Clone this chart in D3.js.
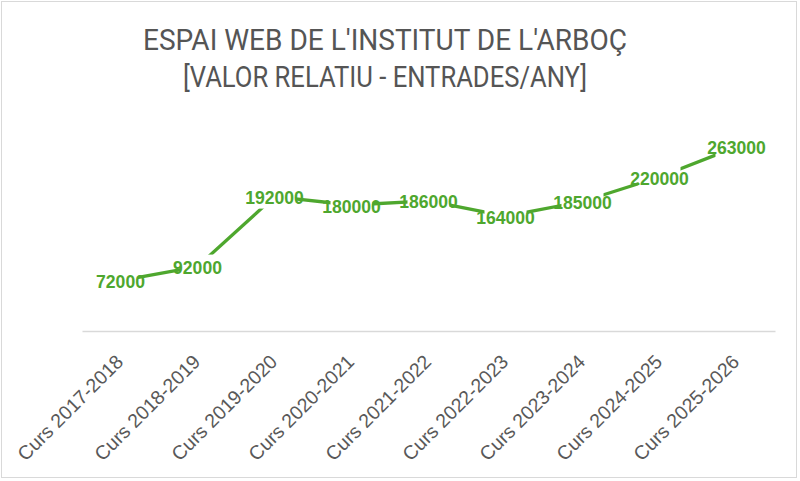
<!DOCTYPE html>
<html>
<head>
<meta charset="utf-8">
<script src="https://cdn.jsdelivr.net/npm/d3@7"></script>
<style>
  body { margin: 0; background: #fff; }
  svg { display: block; }
</style>
</head>
<body>
<div id="chart"></div>
<script>
const titleLines = ["ESPAI WEB DE L'INSTITUT DE L'ARBOÇ", "[VALOR RELATIU - ENTRADES/ANY]"];
const categories = ["Curs 2017-2018", "Curs 2018-2019", "Curs 2019-2020", "Curs 2020-2021",
  "Curs 2021-2022", "Curs 2022-2023", "Curs 2023-2024", "Curs 2024-2025", "Curs 2025-2026"];
const values = [72000, 92000, 192000, 180000, 186000, 164000, 185000, 220000, 263000];
const yDomain = [0, 300000];

const width = 800, height = 481;
const green = '#4ea72e', grey = '#595959';
const plot = { left: 82, right: 775, top: 121, bottom: 331 };

const svg = d3.select('#chart').append('svg')
  .attr('width', width)
  .attr('height', height);

svg.append('rect')
  .attr('x', 1.5).attr('y', 1.5)
  .attr('width', 795).attr('height', 476)
  .attr('fill', '#fff')
  .attr('stroke', '#d9d9d9');

// title
const titleW = [484, 404];
svg.selectAll('text.title')
  .data(titleLines).enter()
  .append('text')
  .attr('class', 'title')
  .attr('x', 385)
  .attr('y', (d, i) => 50 + i * 37)
  .attr('text-anchor', 'middle')
  .attr('font-family', 'Roboto, "Liberation Sans", sans-serif')
  .attr('font-size', 29.5)
  .attr('fill', '#555')
  .attr('textLength', (d, i) => titleW[i])
  .attr('lengthAdjust', 'spacingAndGlyphs')
  .text(d => d);

const x = d3.scaleBand()
  .domain(categories)
  .range([plot.left, plot.right]);

const y = d3.scaleLinear()
  .domain(yDomain)
  .range([plot.bottom, plot.top]);

const cx = d => x(d) + x.bandwidth() / 2;

// category axis
const xAxis = svg.append('g')
  .attr('class', 'x_axis')
  .attr('transform', `translate(0, ${plot.bottom})`)
  .call(d3.axisBottom(x).tickSize(0).tickFormat(''));
xAxis.select('.domain').attr('stroke', '#d9d9d9').attr('stroke-width', 1.3);

svg.selectAll('text.cat')
  .data(categories).enter()
  .append('text')
  .attr('class', 'cat')
  .attr('transform', d => `translate(${cx(d) + 4}, ${plot.bottom + 32}) rotate(-45)`)
  .attr('text-anchor', 'end')
  .attr('font-family', '"Liberation Sans", Arial, sans-serif')
  .attr('font-size', 19.5)
  .attr('fill', grey)
  .text(d => d);

// mask: line is hidden behind the data label boxes
const mask = svg.append('defs').append('mask').attr('id', 'labelMask');
mask.append('rect').attr('width', width).attr('height', height).attr('fill', '#fff');
mask.selectAll('rect.hole')
  .data(values).enter()
  .append('rect')
  .attr('class', 'hole')
  .attr('x', (d, i) => cx(categories[i]) - String(d).length * 3.5)
  .attr('y', d => y(d) - 12)
  .attr('width', d => String(d).length * 7)
  .attr('height', 24)
  .attr('fill', '#000');

const line = d3.line()
  .x((d, i) => cx(categories[i]))
  .y(d => y(d));

svg.append('path')
  .datum(values)
  .attr('d', line)
  .attr('fill', 'none')
  .attr('stroke', green)
  .attr('stroke-width', 3.3)
  .attr('stroke-linecap', 'round')
  .attr('stroke-linejoin', 'round')
  .attr('mask', 'url(#labelMask)');

svg.selectAll('text.lbl')
  .data(values).enter()
  .append('text')
  .attr('class', 'lbl')
  .attr('x', (d, i) => cx(categories[i]))
  .attr('y', d => y(d) + 7.5)
  .attr('text-anchor', 'middle')
  .attr('font-family', '"Liberation Sans", Arial, sans-serif')
  .attr('font-weight', 'bold')
  .attr('font-size', 17.6)
  .attr('fill', green)
  .text(d => d);
</script>
</body>
</html>
